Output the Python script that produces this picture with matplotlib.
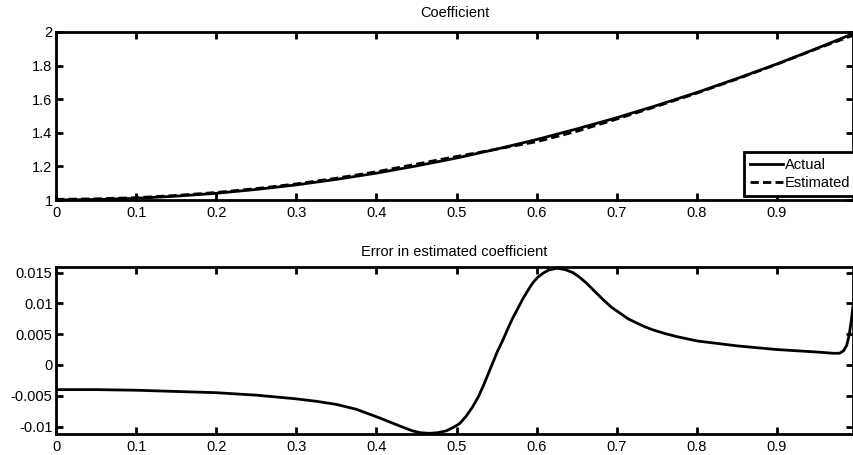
import matplotlib
matplotlib.use("Agg")
import matplotlib.pyplot as plt

# ---- data ----
x_top = [0.0, 0.05, 0.1, 0.15, 0.2, 0.25, 0.3, 0.35, 0.4, 0.45, 0.5, 0.55,
         0.6, 0.65, 0.7, 0.75, 0.8, 0.85, 0.9, 0.95, 0.995]
actual = [1.000, 1.003, 1.010, 1.023, 1.040, 1.063, 1.090, 1.123, 1.160, 1.203,
          1.250, 1.303, 1.360, 1.423, 1.490, 1.563, 1.640, 1.723, 1.810, 1.903, 1.990]
estimated = [1.004, 1.007, 1.014, 1.027, 1.045, 1.068, 1.096, 1.130, 1.168, 1.214,
             1.259, 1.303, 1.347, 1.409, 1.482, 1.558, 1.636, 1.720, 1.808, 1.901, 1.980]

x_err = [0.0, 0.05, 0.1, 0.15, 0.2, 0.25, 0.3, 0.325, 0.35, 0.375, 0.404, 0.429,
         0.445, 0.455, 0.466, 0.476, 0.487, 0.495, 0.504, 0.512, 0.52, 0.527,
         0.533, 0.539, 0.545, 0.551, 0.558, 0.564, 0.57, 0.577, 0.583, 0.589,
         0.595, 0.601, 0.608, 0.615, 0.625, 0.635, 0.645, 0.653, 0.662, 0.672,
         0.683, 0.693, 0.704, 0.714, 0.725, 0.735, 0.745, 0.76, 0.775, 0.8,
         0.85, 0.9, 0.95, 0.97, 0.978, 0.983, 0.987, 0.99, 0.993, 0.995]
error = [-0.0040, -0.0040, -0.0041, -0.0043, -0.0045, -0.0049, -0.0055, -0.0059,
         -0.0064, -0.0072, -0.0086, -0.0099, -0.0107, -0.0110, -0.0111, -0.0110,
         -0.0107, -0.0102, -0.0095, -0.0083, -0.0068, -0.0052, -0.0035, -0.0016,
         0.0003, 0.0022, 0.0041, 0.0059, 0.0076, 0.0093, 0.0108, 0.0121, 0.0133,
         0.0142, 0.0149, 0.0154, 0.0157, 0.0155, 0.0150, 0.0143, 0.0133, 0.0120,
         0.0106, 0.0094, 0.0084, 0.0075, 0.0068, 0.0062, 0.0057, 0.0051, 0.0046,
         0.0039, 0.0031, 0.0025, 0.0021, 0.0019, 0.0019, 0.0023, 0.0032, 0.0048,
         0.0075, 0.0098]

top_yticks = [1, 1.2, 1.4, 1.6, 1.8, 2]
top_yticklabels = ["1", "1.2", "1.4", "1.6", "1.8", "2"]
bot_yticks = [-0.01, -0.005, 0, 0.005, 0.01, 0.015]
bot_yticklabels = ["-0.01", "-0.005", "0", "0.005", "0.01", "0.015"]
xticks = [0, 0.1, 0.2, 0.3, 0.4, 0.5, 0.6, 0.7, 0.8, 0.9]
xticklabels = ["0", "0.1", "0.2", "0.3", "0.4", "0.5", "0.6", "0.7", "0.8", "0.9"]

plt.rcParams['font.family'] = ['Liberation Sans', 'DejaVu Sans']
FS = 10.5
plt.rcParams['font.size'] = FS

fig = plt.figure(figsize=(8.54, 4.55), dpi=100)
ax1 = fig.add_axes([0.0656, 0.5604, 0.9334, 0.3693])
ax2 = fig.add_axes([0.0656, 0.0462, 0.9334, 0.3670])

def style(ax):
    for s in ax.spines.values():
        s.set_linewidth(2.0)
        s.set_color('black')
    ax.tick_params(direction='in', length=5, width=2.0, top=True, right=True,
                   labelsize=FS)
    ax.tick_params(axis='x', pad=4.5)
    ax.tick_params(axis='y', pad=2.5)
    ax.set_xticks(xticks)
    ax.set_xticklabels(xticklabels)
    ax.set_xlim(0, 0.995)

ax1.plot(x_top, actual, color='black', lw=2.0, label='Actual')
ax1.plot(x_top, estimated, color='black', lw=2.0, ls=(0, (3, 1.5)), label='Estimated')
style(ax1)
ax1.set_ylim(1, 2)
ax1.set_yticks(top_yticks)
ax1.set_yticklabels(top_yticklabels)
ax1.set_title('Coefficient', fontsize=FS, pad=10.5)
leg = ax1.legend(loc='lower right', bbox_to_anchor=(1.004, 0.024), fontsize=FS,
                 handlelength=2.3, handletextpad=0.1, borderpad=0.42,
                 labelspacing=0.25, fancybox=False, framealpha=1,
                 edgecolor='black', borderaxespad=0.0)
leg.get_frame().set_linewidth(2.0)
leg.set_clip_on(False)

ax2.plot(x_err, error, color='black', lw=2.0)
style(ax2)
ax2.set_ylim(-0.0112, 0.0159)
ax2.set_yticks(bot_yticks)
ax2.set_yticklabels(bot_yticklabels)
ax2.set_title('Error in estimated coefficient', fontsize=FS, pad=8)

fig.savefig('out.png', dpi=100, facecolor='white')
